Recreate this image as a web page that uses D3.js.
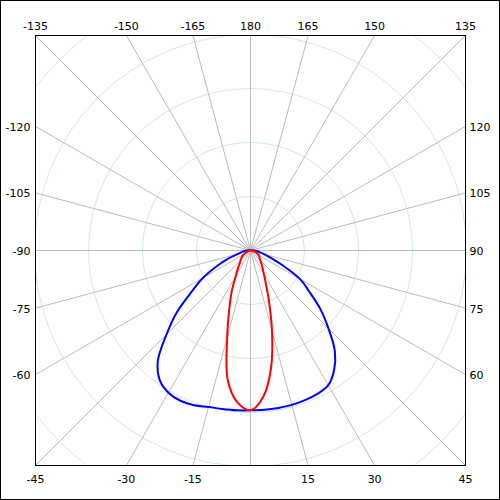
<!DOCTYPE html>
<html>
<head>
<meta charset="utf-8">
<script src="https://cdn.jsdelivr.net/npm/d3@7"></script>
<style>
  html, body { margin: 0; padding: 0; background: #fff; }
  svg { display: block; }
</style>
</head>
<body>
<div id="chart"></div>
<script>
// angle in degrees, 0 = straight down, -90 = left, 90 = right
const angles = [-90, -85, -80, -75, -70, -65, -60, -55, -50, -45, -40, -35, -30, -25, -20, -15, -10, -5,
  0, 5, 10, 15, 20, 25, 30, 35, 40, 45, 50, 55, 60, 65, 70, 75, 80, 85, 90];

const blueValues = [7, 12, 17, 24, 43, 69, 102, 133, 178, 220, 267, 293, 304, 307, 305, 300, 298, 297,
  296, 296, 296, 296, 295, 293, 288, 270, 243, 204, 169, 133, 106, 67, 41, 26, 17, 12, 7];

const redValues = [0, 2, 3, 5, 6, 10, 14, 19, 22, 26, 31, 41, 54, 81, 115, 167, 243, 282,
  296, 272, 220, 154, 100, 67, 49, 39, 31, 26, 22, 20, 18, 14, 12, 8, 6, 3, 0];

const ringValues = [100, 200, 300, 400, 500];

const tickAngles = [-165, -150, -135, -120, -105, -90, -75, -60, -45, -30, -15, 0,
  15, 30, 45, 60, 75, 90, 105, 120, 135, 150, 165, 180];
const tickLabels = ["-165", "-150", "-135", "-120", "-105", "-90", "-75", "-60", "-45", "-30", "-15", "",
  "15", "30", "45", "60", "75", "90", "105", "120", "135", "150", "165", "180"];

const chartConfig = {
  width: 500,
  height: 500,
  plot: {left: 35.5, top: 35.5, size: 430},
  rayColour: "#bcbcbc",
  ringColour: "#cfe6ee",
  font: "11px 'DejaVu Sans', sans-serif"
};

const half = chartConfig.plot.size / 2;
const cx = chartConfig.plot.left + half,
      cy = chartConfig.plot.top + half;

const rScale = d3.scaleLinear().domain([0, 100]).range([0, 54]);

function toXY(theta, r) {
  let a = theta * Math.PI / 180;
  return [cx + r * Math.sin(a), cy + r * Math.cos(a)];
}

const svg = d3.select("#chart").append("svg")
  .attr("width", chartConfig.width)
  .attr("height", chartConfig.height);

svg.append("rect")
  .attr("x", 0.5).attr("y", 0.5)
  .attr("width", chartConfig.width - 1).attr("height", chartConfig.height - 1)
  .attr("fill", "#fff").attr("stroke", "#000");

svg.append("clipPath").attr("id", "plotClip")
  .append("rect")
  .attr("x", chartConfig.plot.left).attr("y", chartConfig.plot.top)
  .attr("width", chartConfig.plot.size).attr("height", chartConfig.plot.size);

let plot = svg.append("g").attr("clip-path", "url(#plotClip)");

// rings
plot.selectAll(".ring")
  .data(ringValues)
  .enter()
  .append("circle")
  .attr("class", "ring")
  .attr("cx", cx).attr("cy", cy)
  .attr("r", d => rScale(d))
  .attr("fill", "none")
  .attr("stroke", chartConfig.ringColour)
  .attr("stroke-width", 1);

// rays
plot.selectAll(".ray")
  .data(tickAngles)
  .enter()
  .append("line")
  .attr("class", "ray")
  .attr("x1", cx).attr("y1", cy)
  .attr("x2", d => toXY(d, 400)[0])
  .attr("y2", d => toXY(d, 400)[1])
  .attr("stroke", chartConfig.rayColour)
  .attr("stroke-width", 1);

// curves
let radial = d3.lineRadial()
  .angle(d => (180 - d.angle) * Math.PI / 180)
  .radius(d => rScale(d.value))
  .curve(d3.curveCatmullRomClosed.alpha(0.5));

let series = [
  {name: "blue", colour: "#0000ff", values: blueValues},
  {name: "red", colour: "#ff0000", values: redValues}
];

plot.selectAll(".curve")
  .data(series)
  .enter()
  .append("path")
  .attr("class", "curve")
  .attr("transform", `translate(${cx},${cy})`)
  .attr("d", s => radial(angles.map((a, i) => ({angle: a, value: s.values[i]}))))
  .attr("fill", "none")
  .attr("stroke", s => s.colour)
  .attr("stroke-width", 2);

svg.append("rect")
  .attr("x", chartConfig.plot.left).attr("y", chartConfig.plot.top)
  .attr("width", chartConfig.plot.size).attr("height", chartConfig.plot.size)
  .attr("fill", "none").attr("stroke", "#000")
  .attr("shape-rendering", "crispEdges");

// angle labels round the frame
let labels = svg.append("g").attr("class", "labels")
  .style("font", chartConfig.font)
  .attr("fill", "#000");

tickAngles.forEach(function (t, i) {
  if (!tickLabels[i]) return;
  let a = t * Math.PI / 180,
      s = Math.sin(a), c = Math.cos(a);
  let txt = labels.append("text").text(tickLabels[i]);
  if (Math.abs(c) >= Math.abs(s) - 1e-6) {
    let x = cx + half * s / Math.abs(c);
    txt.attr("x", x)
      .attr("y", c < 0 ? chartConfig.plot.top - 6 : chartConfig.plot.top + chartConfig.plot.size + 17)
      .attr("text-anchor", "middle");
  } else {
    let y = cy + half * c / Math.abs(s);
    txt.attr("y", y + 4.5)
      .attr("x", s < 0 ? chartConfig.plot.left - 5 : chartConfig.plot.left + chartConfig.plot.size + 4)
      .attr("text-anchor", s < 0 ? "end" : "start");
  }
});
</script>
</body>
</html>
